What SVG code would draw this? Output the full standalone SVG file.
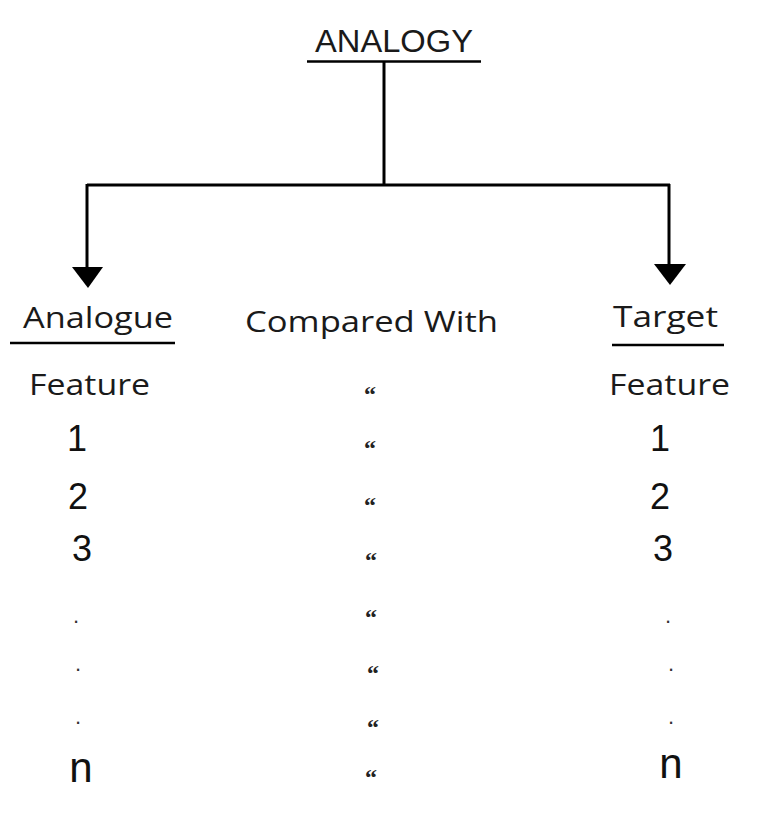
<svg xmlns="http://www.w3.org/2000/svg" width="768" height="816" viewBox="0 0 768 816">
<style>
.h{font-family:"Liberation Sans",Arial,sans-serif;font-size:31px;fill:#1a1a1a}
.c{font-family:"Open Sans","Noto Sans",sans-serif;font-size:29px;fill:#1a1a1a}
.d{font-family:"Liberation Sans",Arial,sans-serif;font-size:36px;fill:#111;text-anchor:middle}
.n{font-family:"Liberation Sans",Arial,sans-serif;font-size:42px;fill:#111;text-anchor:middle}
.p{font-family:"Liberation Sans",Arial,sans-serif;font-size:22px;fill:#333;text-anchor:middle}
.q{font-family:"Liberation Serif","Times New Roman",serif;font-size:24px;font-weight:bold;fill:#222;text-anchor:middle}
.u{stroke:#000;stroke-width:2.5;fill:none}
.l{stroke:#000;stroke-width:3;fill:none}
</style>
<rect width="768" height="816" fill="#fff"/>
<g id="analogy">
<text class="h" x="315" y="52" textLength="158" lengthAdjust="spacingAndGlyphs">ANALOGY</text>
<line class="u" x1="307" y1="61.5" x2="481" y2="61.5"/>
</g>
<g id="connectors">
<polyline class="l" points="384,62 384,185"/>
<polyline class="l" points="87,185 670,185"/>
<polyline class="l" points="87,184 87,270"/>
<polyline class="l" points="669,184 669,266"/>
<polygon points="72,267 103,267 88,288" fill="#000"/>
<polygon points="654,264 686,264 670,285" fill="#000"/>
</g>
<g id="analogue">
<text class="c" x="23" y="328" textLength="150" lengthAdjust="spacingAndGlyphs">Analogue</text>
<line class="u" x1="10" y1="343" x2="175" y2="343"/>
<text class="c" x="29" y="395" textLength="121" lengthAdjust="spacingAndGlyphs">Feature</text>
<text class="d" x="77" y="451">1</text>
<text class="d" x="78" y="509">2</text>
<text class="d" x="82" y="561">3</text>
<text class="p" x="76" y="623">.</text>
<text class="p" x="78" y="671">.</text>
<text class="p" x="78" y="724">.</text>
<text class="n" x="81" y="782">n</text>
</g>
<g id="compared">
<text class="c" x="245" y="332" textLength="253" lengthAdjust="spacingAndGlyphs">Compared With</text>
<text class="q" x="370" y="402">“</text>
<text class="q" x="370" y="456">“</text>
<text class="q" x="370" y="513">“</text>
<text class="q" x="371" y="568">“</text>
<text class="q" x="371" y="625">“</text>
<text class="q" x="373" y="681">“</text>
<text class="q" x="373" y="735">“</text>
<text class="q" x="371" y="785">“</text>
</g>
<g id="target">
<text class="c" x="613" y="327" textLength="105" lengthAdjust="spacingAndGlyphs">Target</text>
<line class="u" x1="612" y1="345" x2="724" y2="345"/>
<text class="c" x="609" y="395" textLength="121" lengthAdjust="spacingAndGlyphs">Feature</text>
<text class="d" x="660" y="451">1</text>
<text class="d" x="660" y="509">2</text>
<text class="d" x="663" y="561">3</text>
<text class="p" x="668" y="623">.</text>
<text class="p" x="671" y="671">.</text>
<text class="p" x="671" y="724">.</text>
<text class="n" x="671" y="778">n</text>
</g>
</svg>
